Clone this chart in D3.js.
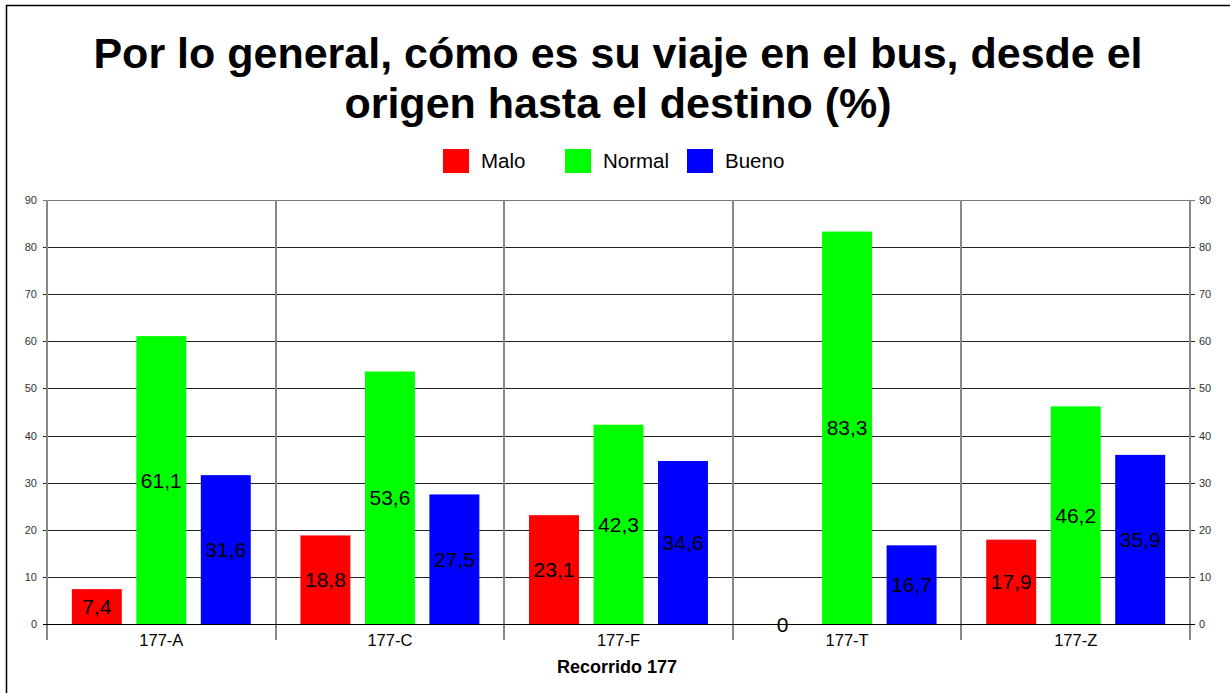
<!DOCTYPE html>
<html>
<head>
<meta charset="utf-8">
<script src="https://cdn.jsdelivr.net/npm/d3@7/dist/d3.min.js"></script>
<style>
  html, body { margin: 0; padding: 0; background: #fff; }
  svg { display: block; font-family: "Liberation Sans", Arial, sans-serif; }
</style>
</head>
<body>
<svg id="chart" width="1230" height="693"></svg>
<script>
// Route 177 survey: trip rating per route variant (percent)
const categories = ["177-A", "177-C", "177-F", "177-T", "177-Z"];
const seriesNames = ["Malo", "Normal", "Bueno"];
const malo   = [7.4, 18.8, 23.1, 0, 17.9];
const normal = [61.1, 53.6, 42.3, 83.3, 46.2];
const bueno  = [31.6, 27.5, 34.6, 16.7, 35.9];
const yTicks = [0, 10, 20, 30, 40, 50, 60, 70, 80, 90];
const colors = ["#ff0000", "#00ff00", "#0000ff"];
const titleLines = ["Por lo general, cómo es su viaje en el bus, desde el", "origen hasta el destino (%)"];
const xTitle = "Recorrido 177";

const seriesValues = [malo, normal, bueno];
const fmt = v => String(v).replace(".", ",");

const svg = d3.select("#chart");
const W = 1230, H = 693;
const plot = { left: 47, right: 1190, top: 200, bottom: 624 };

// outer frame (left and top edges)
svg.append("path")
  .attr("d", `M6.5,${H} V5.5 H${W}`)
  .attr("fill", "none").attr("stroke", "#000").attr("stroke-width", 1.5);

// title
const title = svg.append("text")
  .attr("text-anchor", "middle")
  .attr("font-weight", "bold").attr("font-size", 43).attr("fill", "#000");
titleLines.forEach((t, i) => {
  title.append("tspan").attr("x", 618).attr("y", 68 + i * 50).text(t);
});

// legend
const legendX = [443, 565, 687];
seriesNames.forEach((name, i) => {
  const g = svg.append("g").attr("transform", `translate(${legendX[i]},149)`);
  g.append("rect").attr("width", 26).attr("height", 24).attr("fill", colors[i]);
  g.append("text").attr("x", 38).attr("y", 19).attr("font-size", 20.5)
    .attr("fill", "#000").text(name);
});

// scales
const x0 = d3.scaleBand().domain(categories).range([plot.left, plot.right]).padding(0);
const x1 = d3.scaleBand().domain(seriesNames).range([0, x0.bandwidth()])
  .paddingInner(0.225).paddingOuter(0.385);
const y = d3.scaleLinear().domain([0, 90]).range([plot.bottom, plot.top]);

// horizontal grid lines with ticks on both sides
const grid = svg.append("g");
grid.selectAll("line").data(yTicks).join("line")
  .attr("x1", plot.left - 4).attr("x2", plot.right + 5)
  .attr("y1", d => Math.round(y(d)) + 0.5).attr("y2", d => Math.round(y(d)) + 0.5)
  .attr("stroke", d => d === 90 ? "#777" : "#222").attr("stroke-width", 1.2);

// left and right tick labels
const leftAxis = d3.axisLeft(y).tickValues(yTicks).tickSize(0).tickPadding(10);
const rightAxis = d3.axisRight(y).tickValues(yTicks).tickSize(0).tickPadding(9);
[[leftAxis, plot.left], [rightAxis, plot.right]].forEach(([ax, xPos]) => {
  const g = svg.append("g").attr("transform", `translate(${xPos},0)`).call(ax);
  g.select(".domain").remove();
  g.selectAll("text").attr("font-size", 11).attr("fill", "#333")
    .attr("font-family", "Liberation Sans, Arial, sans-serif");
});

// vertical category separators and side axes
const sepX = categories.map(c => x0(c)).concat([plot.right]);
svg.append("g").selectAll("line").data(sepX).join("line")
  .attr("x1", d => Math.round(d)).attr("x2", d => Math.round(d))
  .attr("y1", plot.top).attr("y2", 640)
  .attr("stroke", "#888").attr("stroke-width", 2);

// bars
const groups = svg.append("g").selectAll("g").data(categories).join("g")
  .attr("transform", c => `translate(${x0(c)},0)`);

groups.selectAll("rect")
  .data((c, ci) => seriesNames.map((s, si) => ({ s, si, v: seriesValues[si][ci] })))
  .join("rect")
  .attr("x", d => x1(d.s)).attr("width", x1.bandwidth())
  .attr("y", d => y(d.v)).attr("height", d => y(0) - y(d.v))
  .attr("fill", d => colors[d.si]);

// value labels centred in each bar
groups.selectAll("text.val")
  .data((c, ci) => seriesNames.map((s, si) => ({ s, si, v: seriesValues[si][ci] })))
  .join("text").attr("class", "val")
  .attr("x", d => x1(d.s) + x1.bandwidth() / 2)
  .attr("y", d => y(d.v / 2))
  .attr("dy", "0.36em")
  .attr("text-anchor", "middle").attr("font-size", 21).attr("fill", "#000")
  .text(d => fmt(d.v));

// re-draw the zero line on top of bars
svg.append("line")
  .attr("x1", plot.left - 4).attr("x2", plot.right + 5)
  .attr("y1", Math.round(y(0)) + 0.5).attr("y2", Math.round(y(0)) + 0.5)
  .attr("stroke", "#000").attr("stroke-width", 1.2);

// category labels
svg.append("g").selectAll("text").data(categories).join("text")
  .attr("x", c => x0(c) + x0.bandwidth() / 2).attr("y", 646)
  .attr("text-anchor", "middle").attr("font-size", 16.5).attr("fill", "#000")
  .text(c => c);

// axis title
svg.append("text").attr("x", 617).attr("y", 673)
  .attr("text-anchor", "middle").attr("font-weight", "bold").attr("font-size", 18)
  .attr("fill", "#000").text(xTitle);
</script>
</body>
</html>
